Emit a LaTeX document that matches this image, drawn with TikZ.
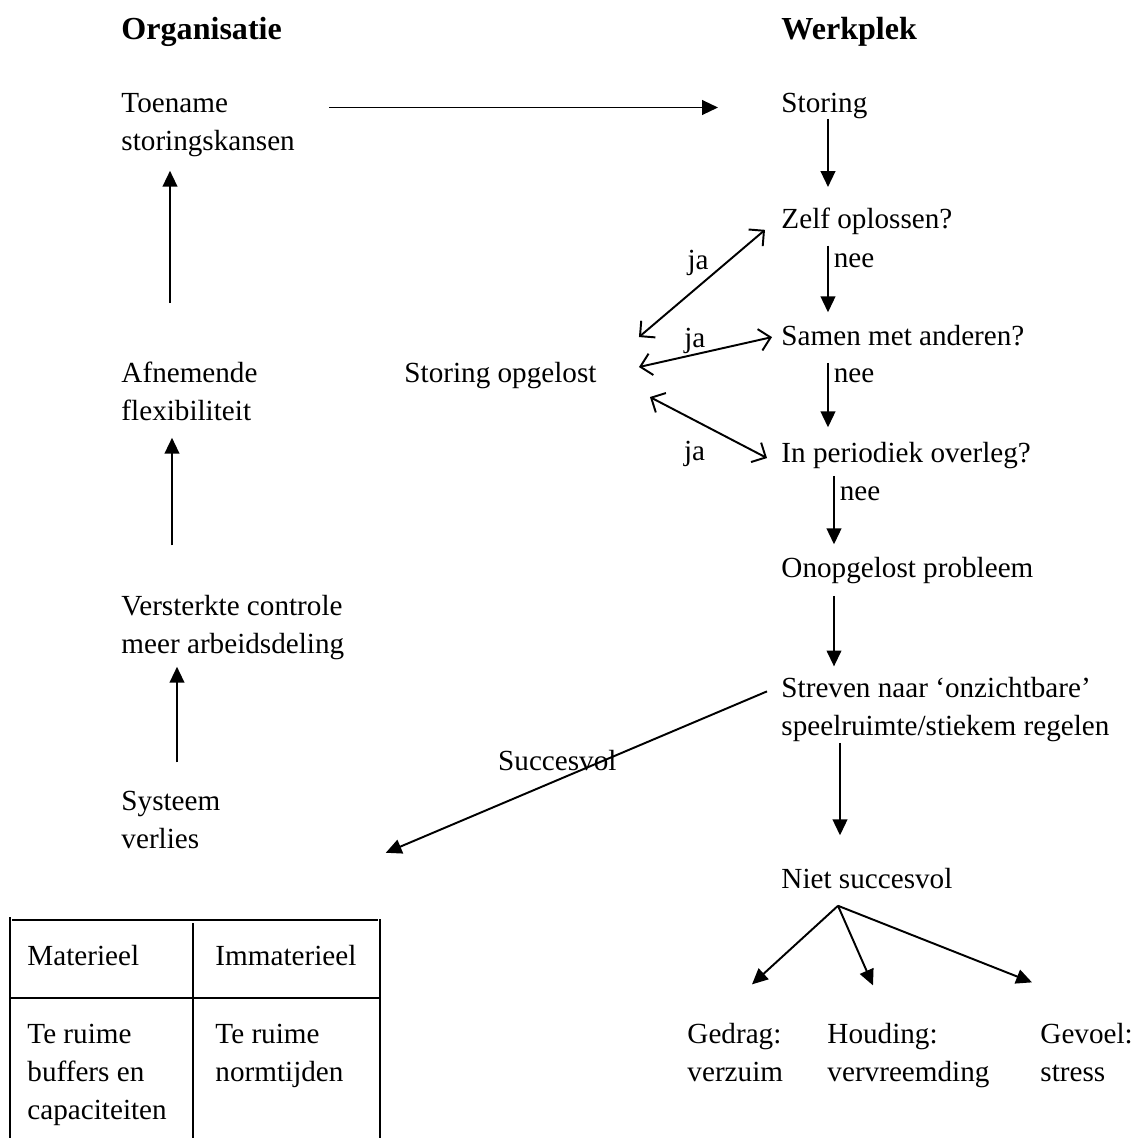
\documentclass[tikz,border=0pt]{standalone}
\usepackage{fontspec}
\setmainfont{Liberation Serif}
\usepackage{tikz}
\usetikzlibrary{arrows.meta,calc,positioning}

\tikzset{
  txt/.style={anchor=base west, inner sep=0pt, align=left},
  kopf/.style={txt, font=\fontsize{13.2pt}{15.6pt}\selectfont\bfseries},
  lbl/.style={inner sep=0pt},
  nee/.style={lbl, right=2pt},
  pijl/.style={line width=0.8pt, -{Triangle[length=6.5pt,width=6pt]}},
  japijl/.style={line width=0.8pt, {Straight Barb[length=4.5pt,width=9pt]}-{Straight Barb[length=4.5pt,width=9pt]}}
}

\begin{document}
\begin{tikzpicture}[x=0.4115pt, y=-0.4115pt, font=\fontsize{12pt}{15.6pt}\selectfont]
%Koordinaten in Pixeln der Vorlage, y nach unten
%bei mehrzeiligen Knoten liegt base auf der letzten Zeile
\useasboundingbox (0,0) rectangle (1133,1138);
\node[kopf] (organisatie) at (121,39) {Organisatie};
\node[kopf] (werkplek) at (781,39) {Werkplek};
%linke Spalte
\node[txt] (toename) at (121,150) {Toename\\storingskansen};
\node[txt] (afname) at (121,420) {Afnemende\\flexibiliteit};
\node[txt] (controle) at (121,653) {Versterkte controle\\meer arbeidsdeling};
\node[txt] (verlies) at (121,848) {Systeem\\verlies};
\node[txt] (opgelost) at (404,382) {Storing opgelost};
%rechte Spalte
\node[txt] (storing) at (781,112) {Storing};
\node[txt] (zelf) at (781,228) {Zelf oplossen?};
\node[txt] (samen) at (781,345) {Samen met anderen?};
\node[txt] (overleg) at (781,462) {In periodiek overleg?};
\node[txt] (probleem) at (781,577) {Onopgelost probleem};
\node[txt] (streven) at (781,735) {Streven naar ‘onzichtbare’\\speelruimte/stiekem regelen};
\node[txt] (niet) at (781,888) {Niet succesvol};
\node[txt] (gedrag) at (687,1081) {Gedrag:\\verzuim};
\node[txt] (houding) at (827,1081) {Houding:\\vervreemding};
\node[txt] (gevoel) at (1040,1081) {Gevoel:\\stress};
%Tabelle unten links
\node[txt] (materieel) at (27,965) {Materieel};
\node[txt] (immaterieel) at (215,965) {Immaterieel};
\node[txt] (buffers) at (27,1119) {Te ruime\\buffers en\\capaciteiten};
\node[txt] (normtijden) at (215,1081) {Te ruime\\normtijden};
\draw[line width=0.6pt] (12,920) -- (378,920);
\draw[line width=0.8pt] (10,998) -- (380,998);
\foreach \xs/\ys in {10/917,193/923,380/919}{
\draw[line width=0.8pt] (\xs,\ys) -- (\xs,1138);
}
%Pfeile
\draw[pijl] ($(toename.east |- storing.west)+(34,2)$) -- ($(storing.west)+(-63,2)$);
\draw[pijl] ($(storing.south west)+(47,0)$) -- ($(zelf.north west)+(47,-20)$);
\draw[pijl] ($(zelf.south west)+(47,11)$) -- node[nee,pos=.225] {nee} ($(samen.north west)+(47,-12)$);
\draw[pijl] ($(samen.south west)+(47,17)$) -- node[nee,pos=.2] {nee} ($(overleg.north west)+(47,-14)$);
\draw[pijl] ($(overleg.south west)+(53,7)$) -- node[nee,pos=.26] {nee} ($(probleem.north west)+(53,-12)$);
\draw[pijl] ($(probleem.south west)+(53,12)$) -- ($(streven.north west)+(53,-10)$);
\draw[pijl] ($(streven.south west)+(59,1)$) -- ($(niet.north west)+(59,-32)$);
\foreach \ziel/\dx/\dy in {gedrag/65/-38, houding/46/-37, gevoel/-8/-40}{
\draw[pijl] ($(niet.south west)+(57,17)$) -- ($(\ziel.north west)+(\dx,\dy)$);
}
\draw[pijl] ($(streven.north west)+(-14,15)$) -- node[lbl,pos=.55,above=3.3pt] {Succesvol} ($(verlies.south east)+(165,4)$);
\draw[pijl] ($(afname.north west)+(49,-58)$) -- ($(toename.south west)+(49,14)$);
\draw[pijl] ($(controle.north west)+(51,-49)$) -- ($(afname.south west)+(51,17)$);
\draw[pijl] ($(verlies.north west)+(56,-28)$) -- ($(controle.south west)+(56,7)$);
\draw[japijl] ($(opgelost.east)+(42,-38)$) -- node[lbl,pos=.56,above left] {ja} ($(zelf.west)+(-16,9)$);
\draw[japijl] ($(opgelost.east)+(42,-8)$) -- node[lbl,pos=.42,above] {ja} ($(samen.west)+(-9,2)$);
\draw[japijl] ($(opgelost.east)+(53,22)$) -- node[lbl,pos=.48,anchor=north east,yshift=-5.6pt] {ja} ($(overleg.west)+(-14,3)$);
\end{tikzpicture}
\end{document}
